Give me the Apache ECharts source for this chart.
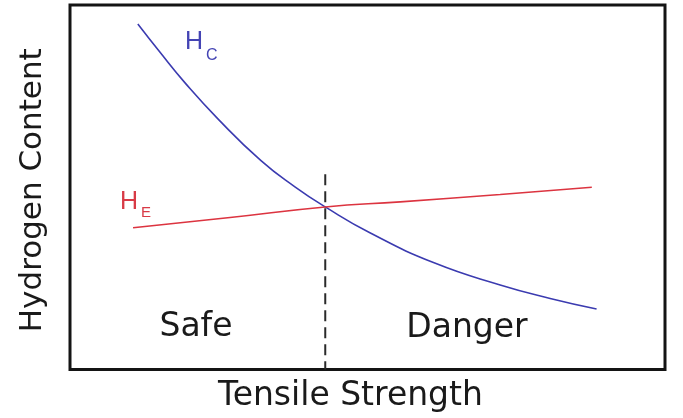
<!DOCTYPE html>
<html>
<head>
<meta charset="utf-8">
<script src="https://cdn.jsdelivr.net/npm/echarts@6/dist/echarts.min.js"></script>
<style>
html,body{margin:0;padding:0;background:#fff;}
#main{width:683px;height:418px;}
</style>
</head>
<body>
<div id="main"></div>
<script>
// Tensile strength (relative units) and hydrogen content (relative units)
var hcX = [11.4, 15.1, 19.3, 24.9, 32.1, 37.8, 42.9, 50.4, 61.3, 72.3, 80.7, 88.5];
var hcY = [94.8, 87.1, 78.7, 68.7, 57.3, 50.1, 44.6, 37.5, 29.2, 23.2, 19.5, 16.6];
var heX = [10.6, 26.9, 42.9, 55.5, 72.3, 87.7];
var heY = [38.9, 41.7, 44.6, 46.0, 48.0, 50.0];
var boundaryX = [42.9, 42.9];
var boundaryY = [53.6, 0];
var xTitle = 'Tensile Strength';
var yTitle = 'Hydrogen Content';
var regionLabels = ['Safe', 'Danger'];

function pairs(xs, ys) { return xs.map(function (x, i) { return [x, ys[i]]; }); }

var chart = echarts.init(document.getElementById('main'), null, {renderer: 'canvas'});
var titleFont = 'DejaVu Sans';
chart.setOption({
  animation: false,
  backgroundColor: '#ffffff',
  grid: {left: 70, right: 18, top: 5, bottom: 48.5, show: true, borderColor: '#141414', borderWidth: 3, backgroundColor: 'transparent'},
  xAxis: {
    type: 'value', min: 0, max: 100,
    axisLine: {show: false}, axisTick: {show: false}, axisLabel: {show: false}, splitLine: {show: false},
    name: xTitle, nameLocation: 'middle', nameGap: 10,
    nameTextStyle: {fontFamily: titleFont, fontSize: 33, color: '#1a1a1a', padding: [0, 34, 0, 0]}
  },
  yAxis: {
    type: 'value', min: 0, max: 100,
    axisLine: {show: false}, axisTick: {show: false}, axisLabel: {show: false}, splitLine: {show: false},
    name: yTitle, nameLocation: 'middle', nameGap: 22,
    nameTextStyle: {fontFamily: titleFont, fontSize: 31, color: '#1a1a1a', padding: [0, 6, 0, 0]}
  },
  series: [
    {
      name: 'HC', type: 'line', data: pairs(hcX, hcY), smooth: 0.5, symbol: 'none',
      lineStyle: {color: '#3b3bb0', width: 1.6}
    },
    {
      name: 'HE', type: 'line', data: pairs(heX, heY), smooth: 0.5, symbol: 'none',
      lineStyle: {color: '#dc3440', width: 1.6}
    },
    {
      name: 'Boundary', type: 'line', data: pairs(boundaryX, boundaryY), symbol: 'none', z: 1,
      lineStyle: {color: '#2a2a2a', width: 2, type: [11, 6]}
    }
  ],
  graphic: [
    {type: 'text', x: 185, y: 42.5, style: {text: 'H', fontFamily: 'Liberation Sans', fontSize: 25, fill: '#4444b4', align: 'left', verticalAlign: 'middle'}},
    {type: 'text', x: 206, y: 56, style: {text: 'C', fontFamily: 'Liberation Sans', fontSize: 16, fill: '#4444b4', align: 'left', verticalAlign: 'middle'}},
    {type: 'text', x: 120, y: 201.7, style: {text: 'H', fontFamily: 'Liberation Sans', fontSize: 25, fill: '#d83a46', align: 'left', verticalAlign: 'middle'}},
    {type: 'text', x: 141, y: 213.3, style: {text: 'E', fontFamily: 'Liberation Sans', fontSize: 15, fill: '#d83a46', align: 'left', verticalAlign: 'middle'}},
    {type: 'text', x: 196, y: 327, style: {text: regionLabels[0], fontFamily: titleFont, fontSize: 33, fill: '#1a1a1a', align: 'center', verticalAlign: 'middle'}},
    {type: 'text', x: 467, y: 328, style: {text: regionLabels[1], fontFamily: titleFont, fontSize: 33, fill: '#1a1a1a', align: 'center', verticalAlign: 'middle'}}
  ]
});
</script>
</body>
</html>
